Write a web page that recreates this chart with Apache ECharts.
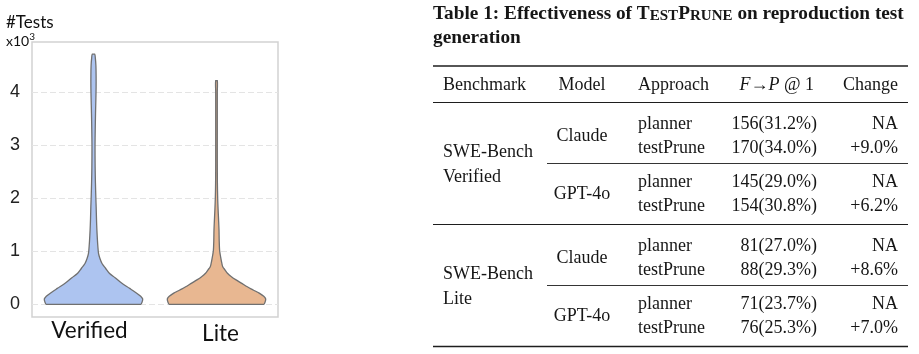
<!DOCTYPE html>
<html><head><meta charset="utf-8">
<script src="https://cdn.jsdelivr.net/npm/echarts@6/dist/echarts.min.js"></script>
<style>html,body{margin:0;padding:0;background:#fff}#c{width:919px;height:354px}</style>
</head><body><div id="c"></div>
<script>
// ---------- data ----------
const categories = ['Verified', 'Lite'];
const yTicks = [0, 1, 2, 3, 4];
const yAxisTitle = '#Tests';
const yAxisUnitBase = 'x10';
const yAxisUnitExp = '3';
// violin outlines: level (x10^3 tests) and relative half-width (density, max = 1)
const verifiedLevels = [0, 0.05, 0.1, 0.15, 0.21, 0.3, 0.4, 0.5, 0.58, 0.68, 0.77, 0.87, 0.96, 1.1, 1.21, 1.4, 1.6, 1.84, 2.0, 2.3, 2.6, 3.0, 3.3, 3.6, 3.9, 4.1, 4.3, 4.5, 4.65, 4.72];
const verifiedDensity = [0.959, 0.990, 1.0, 0.959, 0.878, 0.735, 0.571, 0.439, 0.327, 0.245, 0.173, 0.129, 0.102, 0.088, 0.080, 0.069, 0.061, 0.054, 0.048, 0.039, 0.033, 0.031, 0.035, 0.041, 0.049, 0.053, 0.053, 0.049, 0.037, 0.024];
const liteLevels = [0, 0.05, 0.1, 0.15, 0.21, 0.27, 0.33, 0.4, 0.46, 0.52, 0.58, 0.65, 0.71, 0.78, 0.84, 0.93, 1.02, 1.2, 1.4, 1.6, 1.8, 2.0, 2.3, 2.7, 3.2, 3.7, 4.0, 4.22];
const liteDensity = [0.960, 0.990, 1.0, 0.960, 0.869, 0.747, 0.626, 0.505, 0.398, 0.303, 0.228, 0.172, 0.127, 0.107, 0.095, 0.077, 0.063, 0.055, 0.051, 0.042, 0.032, 0.024, 0.018, 0.016, 0.016, 0.016, 0.016, 0.016];

// table
const captionLine1 = ['Table 1: Effectiveness of ', 'TestPrune', ' on reproduction test'];
const captionLine2 = 'generation';
const tableColumns = ['Benchmark', 'Model', 'Approach', 'F→P @ 1', 'Change'];
const benchmarkNames = [['SWE-Bench', 'Verified'], ['SWE-Bench', 'Lite']];
const modelNames = ['Claude', 'GPT-4o'];
const approachNames = ['planner', 'testPrune'];
const passCounts = [156, 170, 145, 154, 81, 88, 71, 76];
const passRates = ['31.2%', '34.0%', '29.0%', '30.8%', '27.0%', '29.3%', '23.7%', '25.3%'];
const changeValues = ['NA', '+9.0%', 'NA', '+6.2%', 'NA', '+8.6%', 'NA', '+7.0%'];

// ---------- styling ----------
const violinColors = ['#adc4f0', '#e8b791'];
const violinLevels = [verifiedLevels, liteLevels];
const violinDensity = [verifiedDensity, liteDensity];

const SERIF = '"Liberation Serif", "DejaVu Serif", serif';
const TFS = 18; // table font size
const TCOL = '#161616';

function txt(x, y, text, opt) {
  opt = opt || {};
  const style = Object.assign({
    text: text,
    fill: opt.fill || TCOL,
    font: opt.font || (TFS + 'px ' + SERIF),
    align: opt.align || 'left', textAlign: opt.align || 'left',
    verticalAlign: 'middle', textVerticalAlign: 'middle'
  }, opt.rich ? { rich: opt.rich } : {});
  return { type: 'text', x: x, y: y, silent: true, style: style };
}
function hline(x1, x2, y, w) {
  return { type: 'line', silent: true, shape: { x1: x1, y1: y, x2: x2, y2: y }, style: { stroke: '#1e1e1e', lineWidth: w } };
}

const graphics = [];
// y axis title
graphics.push(txt(6, 23, yAxisTitle, { font: '17px Lato', fill: '#111' }));
graphics.push(txt(6, 40, '{a|' + yAxisUnitBase + '}{s|' + yAxisUnitExp + '}', {
  font: '14px Lato', fill: '#111',
  rich: {
    a: { fontFamily: 'Lato', fontSize: 14, lineHeight: 16, verticalAlign: 'bottom' },
    s: { fontFamily: 'Lato', fontSize: 10, lineHeight: 10, verticalAlign: 'top' }
  }
}));

// caption
const capSize = 19.3;
function smallCaps(word) {
  return word.split('').map(ch => ch === ch.toUpperCase() ? '{B|' + ch + '}' : '{S|' + ch.toUpperCase() + '}').join('');
}
const capRich = {
  N: { fontFamily: SERIF, fontWeight: 'bold', fontSize: capSize, verticalAlign: 'bottom', lineHeight: capSize },
  B: { fontFamily: SERIF, fontWeight: 'bold', fontSize: capSize, verticalAlign: 'bottom', lineHeight: capSize },
  S: { fontFamily: SERIF, fontWeight: 'bold', fontSize: capSize * 0.78, verticalAlign: 'bottom', lineHeight: capSize * 0.78 + 0.8 }
};
graphics.push(txt(433, 14, '{N|' + captionLine1[0] + '}' + smallCaps(captionLine1[1]) + '{N|' + captionLine1[2] + '}', { rich: capRich, font: 'bold ' + capSize + 'px ' + SERIF }));
graphics.push(txt(433, 38, captionLine2, { font: 'bold ' + capSize + 'px ' + SERIF }));

// table geometry
const X0 = 433, X1 = 908, XC = 547;
const colBench = 443, colModel = 582, colApp = 638, colScore = 817, colChange = 898;
const topRule = 66, headY = 85.5, headRule = 102.5, blockH = 122;
graphics.push(hline(X0, X1, topRule, 1.6));
graphics.push(hline(X0, X1, headRule, 1));
const richIt = {
  i: { fontFamily: SERIF, fontStyle: 'italic', fontSize: TFS },
  r: { fontFamily: SERIF, fontSize: TFS }
};
graphics.push(txt(colBench, headY, tableColumns[0]));
graphics.push(txt(colModel, headY, tableColumns[1], { align: 'center' }));
graphics.push(txt(colApp, headY, tableColumns[2]));
graphics.push(txt(colScore - 3, headY, tableColumns[3].replace(/([FP])/g, '{i|$1}'), { align: 'right', rich: richIt }));
graphics.push(txt(colChange, headY, tableColumns[4], { align: 'right' }));

const rowOff = [22, 46, 80, 104];
benchmarkNames.forEach((bn, b) => {
  const top = headRule + b * blockH;
  graphics.push(txt(colBench, top + 49.5, bn[0]));
  graphics.push(txt(colBench, top + 75, bn[1]));
  modelNames.forEach((mn, m) => {
    graphics.push(txt(colModel, top + (rowOff[m * 2] + rowOff[m * 2 + 1]) / 2, mn, { align: 'center' }));
    approachNames.forEach((an, a) => {
      const r = b * 4 + m * 2 + a;
      const y = top + rowOff[m * 2 + a];
      graphics.push(txt(colApp, y, an));
      graphics.push(txt(colScore, y, passCounts[r] + '(' + passRates[r] + ')', { align: 'right' }));
      graphics.push(txt(colChange, y, changeValues[r], { align: 'right' }));
    });
  });
  graphics.push(hline(XC, X1, top + 61, 0.9));
  graphics.push(hline(X0, X1, top + blockH, b === benchmarkNames.length - 1 ? 1.6 : 1));
});

// ---------- chart ----------
const chart = echarts.init(document.getElementById('c'), null, { renderer: 'canvas' });
chart.setOption({
  animation: false,
  backgroundColor: '#fff',
  grid: { left: 32, right: 641, top: 42, bottom: 37, show: true, borderColor: '#d2d2d2', borderWidth: 1.5, backgroundColor: 'transparent' },
  xAxis: {
    type: 'category', data: categories, boundaryGap: true,
    axisLine: { show: false }, axisTick: { show: false }, splitLine: { show: false },
    axisLabel: {
      margin: 2, color: '#111',
      formatter: (v, i) => i === 0 ? '{v|' + v + '}' : '{l|' + v + '}',
      rich: {
        v: { fontFamily: 'Lato', fontSize: 22.5, color: '#111', padding: [0, 8, 0, 0] },
        l: { fontFamily: 'Lato', fontSize: 22.5, color: '#111', padding: [3.5, 0, 0, 8] }
      }
    }
  },
  yAxis: {
    type: 'value', min: -0.24, max: 4.95,
    axisLine: { show: false }, axisTick: { show: false }, splitLine: { show: false },
    axisLabel: { customValues: yTicks, fontFamily: '"Liberation Sans", Arial, sans-serif', fontSize: 18, color: '#222', margin: 12 }
  },
  graphic: graphics,
  series: [
    {
      type: 'line', data: [], z: 1, silent: true,
      markLine: {
        silent: true, z: 1, symbol: ['none', 'none'], label: { show: false },
        lineStyle: { type: [6, 3], color: '#e4e4e4', width: 1 },
        data: yTicks.map(v => ({ yAxis: v }))
      }
    },
    {
      type: 'custom', z: 3, silent: true,
      data: categories.map((c, i) => [i]),
      renderItem: function (params, api) {
        const ci = api.value(0);
        const lv = violinLevels[ci], dn = violinDensity[ci];
        const half = api.size([1, 0])[0] * 0.4;
        const base = api.coord([ci, 0]);
        const cx = base[0];
        const right = [], left = [];
        for (let i = 0; i < lv.length; i++) {
          const y = api.coord([ci, lv[i]])[1];
          right.push([cx + dn[i] * half, y]);
          left.push([cx - dn[i] * half, y]);
        }
        const pts = [[cx, base[1]]].concat(right, left.reverse());
        return {
          type: 'polygon',
          shape: { points: pts, smooth: 0.3, smoothConstraint: [[cx, base[1]], [cx, base[1]]] },
          style: { fill: violinColors[ci], stroke: '#707070', lineWidth: 1.3 }
        };
      }
    }
  ]
});
</script></body></html>
